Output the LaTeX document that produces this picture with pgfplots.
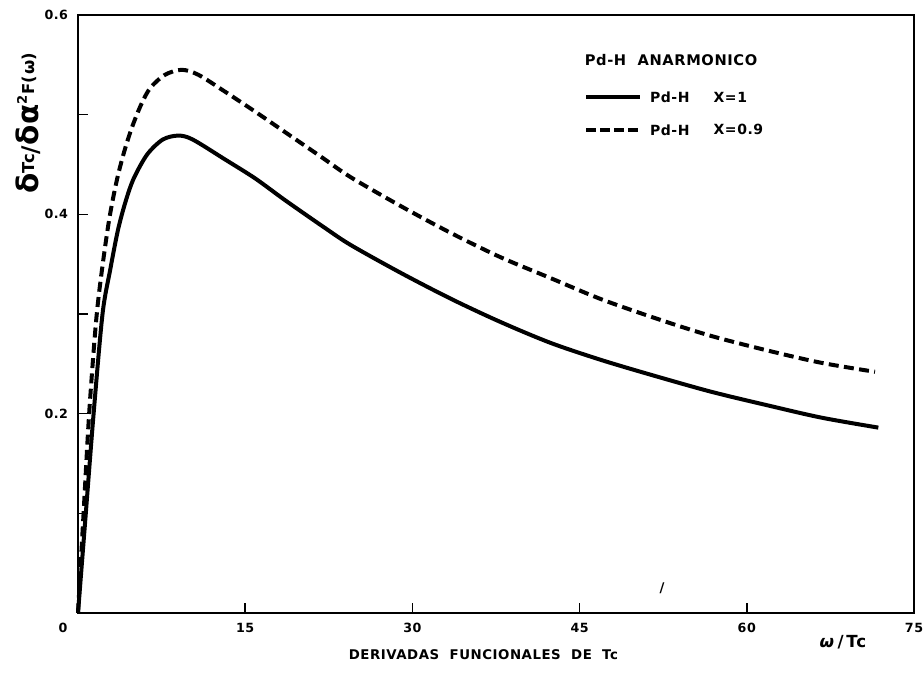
\documentclass[border=0pt]{standalone}
\usepackage{fontspec}
\setmainfont{DejaVu Sans}[LetterSpace=4]
\usepackage{pgfplots}
\pgfplotsset{compat=1.18}
\begin{document}
\begin{tikzpicture}
\begin{axis}[
  scale only axis, width=627pt, height=448.5pt,
  xmin=0, xmax=75, ymin=0, ymax=0.6,
  axis line style={line width=1.5pt},
  xtick={15,30,45,60,75}, xticklabels={15,30,45,60,75},
  ytick={0.1,0.2,0.3,0.4,0.5,0.6}, yticklabels={,0.2,,0.4,,0.6},
  tick align=inside, major tick length=7.5pt,
  tick style={line width=1.2pt, black},
  xtick pos=bottom, ytick pos=left,
  /pgf/number format/assume math mode=true,
  ticklabel style={font=\bfseries\fontsize{9.5}{10}\selectfont},
  xticklabel style={yshift=-4pt},
  yticklabel style={xshift=-4pt},
  clip=false,
]
\addplot[black, line width=3pt, smooth, tension=0.5] coordinates {
(0,0) (0.7,0.1) (1.4,0.2) (2.2,0.3) (2.9,0.345) (3.6,0.385) (4.3,0.414)
(5.0,0.436) (6.2,0.460) (7.6,0.475) (9.0,0.479) (10.3,0.475) (13.2,0.455)
(15.9,0.436) (18.6,0.414) (22.2,0.386) (24.5,0.369) (29,0.341) (33.5,0.315)
(37.9,0.292) (42.4,0.271) (46.9,0.254) (51.4,0.239) (56.8,0.222) (62,0.208)
(66.7,0.196) (71.8,0.186)};
\addplot[black, line width=3pt, dash pattern=on 7.5pt off 4pt, smooth, tension=0.5] coordinates {
(0,0) (0.5,0.1) (1.0,0.2) (1.6,0.29) (2.1,0.34) (2.8,0.395) (3.5,0.435)
(4.2,0.465) (4.9,0.489) (5.7,0.511) (6.5,0.527) (7.8,0.540) (9.3,0.545)
(10.8,0.540) (13.2,0.523) (15.9,0.503) (18.9,0.480) (21.9,0.457) (24.5,0.437)
(29,0.408) (33.5,0.381) (37.9,0.357) (42.4,0.336) (46.9,0.315) (52,0.295)
(56.8,0.278) (62,0.263) (66.7,0.251) (71.5,0.242)};
% legend
\node[anchor=west, inner sep=0pt, font=\bfseries\fontsize{11}{12}\selectfont] at (rel axis cs:0.606,0.925) {Pd-H\ \ ANARMONICO};
\draw[line width=3pt] (rel axis cs:0.608,0.863) -- (rel axis cs:0.672,0.863);
\draw[line width=3pt, dash pattern=on 7.5pt off 3pt] (rel axis cs:0.608,0.808) -- (rel axis cs:0.672,0.808);
\node[anchor=west, font=\bfseries\fontsize{10.5}{12}\selectfont, inner sep=0pt] at (rel axis cs:0.684,0.863) {Pd-H};
\node[anchor=west, font=\bfseries\fontsize{10.5}{12}\selectfont, inner sep=0pt] at (rel axis cs:0.760,0.863) {X=1};
\node[anchor=west, font=\bfseries\fontsize{10.5}{12}\selectfont, inner sep=0pt] at (rel axis cs:0.684,0.808) {Pd-H};
\node[anchor=west, font=\bfseries\fontsize{10.5}{12}\selectfont, inner sep=0pt] at (rel axis cs:0.760,0.808) {X=0.9};
% labels
\node[font=\bfseries\fontsize{9.5}{10}\selectfont] at (rel axis cs:-0.018,-0.025) {0};
\node[font=\bfseries\fontsize{10}{12}\selectfont] at (rel axis cs:0.485,-0.070) {DERIVADAS\ \ FUNCIONALES\ \ DE\ \ Tc};
\node[font=\bfseries\fontsize{12.5}{14}\selectfont] at (rel axis cs:0.915,-0.0485) {\textit{ω}\,/\,Tc};
\node[rotate=90] at (rel axis cs:-0.0598,0.819) {\resizebox{106pt}{!}{\bfseries{\fontsize{18}{18}\selectfont δ}\raisebox{2pt}{\fontsize{10}{10}\selectfont Tc}{\fontsize{14}{14}\selectfont /}{\fontsize{18}{18}\selectfont δα}\raisebox{7pt}{\fontsize{8}{8}\selectfont 2}\raisebox{2pt}{\fontsize{10}{10}\selectfont F(ω)}}};
\node[font=\bfseries\fontsize{10}{12}\selectfont] at (axis cs:52.4,0.025) {/};
\coordinate (sw) at (rel axis cs:0,0);
\end{axis}
\pgfresetboundingbox
\path[use as bounding box] (sw) ++(-58.5pt,-52.5pt) rectangle ++(693pt,512.25pt);
\end{tikzpicture}
\end{document}
